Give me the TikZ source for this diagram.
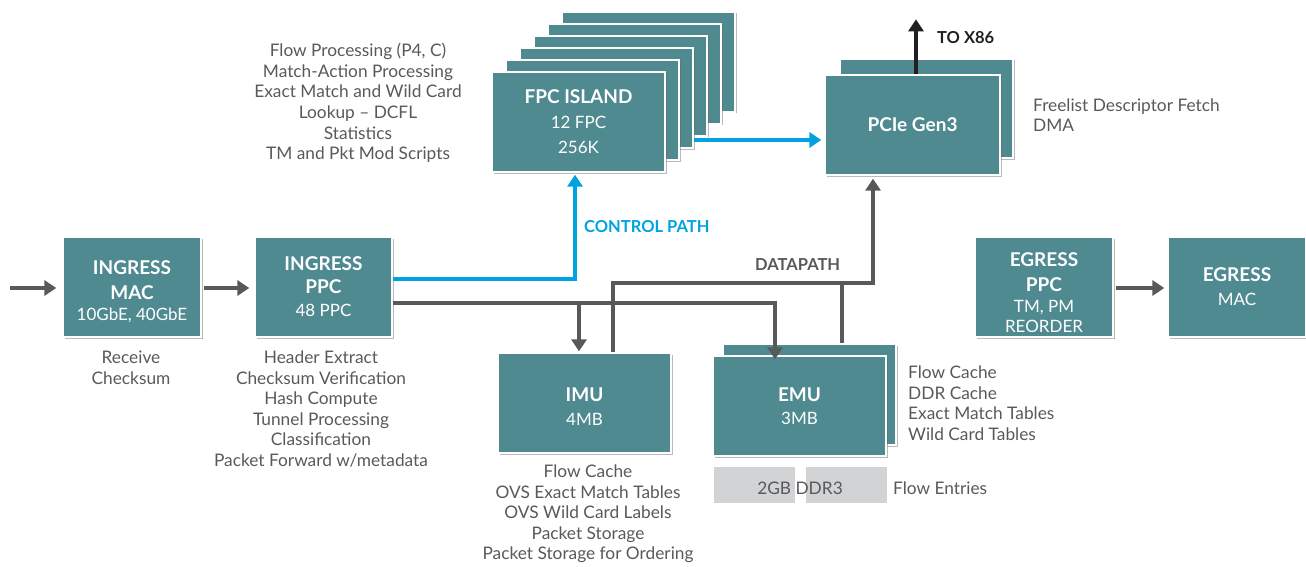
\documentclass[tikz,border=0pt]{standalone}
\usepackage{fontspec}
\setmainfont{Lato}
\usetikzlibrary{arrows.meta,shadows}
\definecolor{teal}{HTML}{4F8A91}
\definecolor{ink}{HTML}{58595B}
\definecolor{wire}{HTML}{58595B}
\definecolor{ctrl}{HTML}{00A3E0}
\definecolor{ddr}{HTML}{D1D3D4}
\definecolor{host}{HTML}{231F20}
\newcommand\hd{\fontsize{19}{23}\selectfont\bfseries}
% invisible strut that pushes a centred block of lines downwards
\newcommand\lowerby[1]{\rule{0pt}{\dimexpr 13.7pt+2\dimexpr #1\relax\relax}}
\tikzset{
  unit/.style={fill=teal, draw=white, line width=1.3pt, text=white, inner sep=0pt,
    drop shadow={shadow xshift=1.5pt, shadow yshift=-1.5pt, opacity=0.45, fill=black!60},
    align=center, font=\fontsize{17}{21}\selectfont},
  note/.style={text=ink, align=center, inner sep=0pt, font=\fontsize{17.3}{20.6}\selectfont},
  wirearrow/.style={draw=wire, line width=3.8pt, -{Triangle[width=15pt,length=12pt]}},
  wireline/.style={draw=wire, line width=3.8pt},
  ctrlarrow/.style={draw=ctrl, line width=3.5pt, -{Triangle[width=15pt,length=12pt]}},
  hostarrow/.style={draw=host, line width=3.8pt, -{Triangle[width=15pt,length=12pt]}},
  memblk/.style={fill=ddr, inner sep=0pt, minimum width=81pt, minimum height=36pt},
  pathlbl/.style={font=\fontsize{16.5}{18}\selectfont\bfseries, inner sep=0pt}
}
\begin{document}
\begin{tikzpicture}[x=1pt,y=-1pt]
\useasboundingbox (0,0) rectangle (1306,567);

% ---------- FPC island stack (five copies behind the front card)
\foreach \k in {5,4,3,2,1}{
  \node[unit, minimum width=173pt, minimum height=100pt] (fpc\k) at ({578.5+14*\k},{122-12*\k}) {};
}
\node[unit, minimum width=173pt, minimum height=100pt] (fpc) at (578.5,122)
  {{\hd FPC ISLAND}\\[4pt]12 FPC\\[4pt]256K};

% ---------- PCIe stack
\node[unit, minimum width=173pt, minimum height=99pt] (pcieb) at (926.5,108.5) {};
\node[unit, minimum width=175pt, minimum height=100pt] (pcie) at (912.5,125) {\hd PCIe Gen3};

% ---------- ingress / egress units
\node[unit, minimum width=138pt, minimum height=100pt] (imac) at (132,287)
  {{\hd\lowerby{5pt}INGRESS}\\[4pt]{\hd MAC}\\[0pt]10GbE, 40GbE};
\node[unit, minimum width=137pt, minimum height=100pt] (ippc) at (323.5,287)
  {{\hd INGRESS}\\[2pt]{\hd PPC}\\[2pt]48 PPC};
\node[unit, minimum width=138pt, minimum height=100pt] (eppc) at (1044,287)
  {{\hd\lowerby{5.5pt}EGRESS}\\[4pt]{\hd PPC}\\[0pt]TM, PM\\[-1pt]REORDER};
\node[unit, minimum width=138pt, minimum height=100pt] (emac) at (1237,287)
  {{\hd EGRESS}\\[3pt]MAC};

% ---------- memory units
\node[unit, minimum width=173pt, minimum height=100pt] (imu) at (584.5,403)
  {{\hd\lowerby{4pt}IMU}\\[3pt]4MB};
\node[unit, minimum width=173pt, minimum height=101pt] (emub) at (809.5,394.5) {};
\node[unit, minimum width=173pt, minimum height=100pt] (emu) at (799.5,406)
  {{\hd EMU}\\[2pt]3MB};

% ---------- external DDR3
\node[memblk] (ddra) at (754.5,485) {};
\node[memblk] (ddrb) at (846.5,485) {};
\node[text=ink, inner sep=0pt, font=\fontsize{17.3}{18}\selectfont] (ddrlbl) at (800,488) {2GB DDR3};

% ---------- descriptions
\node[note] (fpcnote) at (358,103) {Flow Processing (P4, C)\\Match-Action Processing\\Exact Match and Wild Card\\Lookup – DCFL\\Statistics\\TM and Pkt Mod Scripts};
\node[note, align=left, anchor=west] (pcienote) at (1033,115) {Freelist Descriptor Fetch\\DMA};
\node[note] (macnote) at (131,368) {Receive\\Checksum};
\node[note] (ppcnote) at (321,409) {Header Extract\\Checksum Verification\\Hash Compute\\Tunnel Processing\\Classification\\Packet Forward w/metadata};
\node[note] (imunote) at (588,514) {Flow Cache\\OVS Exact Match Tables\\OVS Wild Card Labels\\Packet Storage\\Packet Storage for Ordering};
\node[note, align=left, anchor=west] (emunote) at (908,403) {Flow Cache\\DDR Cache\\Exact Match Tables\\Wild Card Tables};
\node[note, anchor=west] (ddrnote) at (893,488) {Flow Entries};

% ---------- connectors
\coordinate (src) at (10,288);
\draw[wirearrow, shorten >=6pt] (src) -- (src -| imac.west);
\draw[wirearrow, shorten <=2pt, shorten >=5pt] (imac.east |- src) -- (ippc.west |- src);
\draw[wirearrow, shorten <=2pt, shorten >=3pt] (eppc.east |- src) -- (emac.west |- src);

% control path to the FPC island
\coordinate (ctrlrow) at (0,279);
\draw[ctrlarrow, shorten >=2pt] (ippc.east |- ctrlrow) -| ([xshift=-3.5pt]fpc.south);
\node[pathlbl, text=ctrl, anchor=west] (ctrllbl) at (584,227) {CONTROL PATH};

% FPC island to PCIe
\coordinate (fpcrow) at (0,140);
\draw[ctrlarrow, shorten >=3pt] (fpc2.east |- fpcrow) -- (pcie.west |- fpcrow);

% PCIe up to the host
\draw[hostarrow] ([xshift=3.5pt]pcie.north) -- ++(0,-55) coordinate (x86);
\node[pathlbl, text=host, anchor=west] (x86lbl) at (937,38) {TO X86};

% datapath from ingress PPC to IMU and EMU
\coordinate (inrow) at (0,303);
\coordinate (imutap) at (579,303);
\draw[wirearrow, shorten >=-4pt] (ippc.east |- inrow) -| ([xshift=-24.5pt]emu.north);
\draw[wirearrow, shorten >=1pt] (imutap) -- (imu.north -| imutap);

% datapath from IMU and EMU up to PCIe
\coordinate (dpturn) at (873,283);
\coordinate (emutap) at (842,283);
\draw[wireline] ([xshift=28.5pt]imu.north) |- (dpturn);
\draw[wirearrow, shorten >=3pt, shorten <=-1.9pt] (dpturn) -- (pcie.south -| dpturn);
\draw[wireline] (emutap) -- (emub.north -| emutap);
\node[pathlbl, text=ink, anchor=west] (dplbl) at (755,265) {DATAPATH};
\end{tikzpicture}
\end{document}
